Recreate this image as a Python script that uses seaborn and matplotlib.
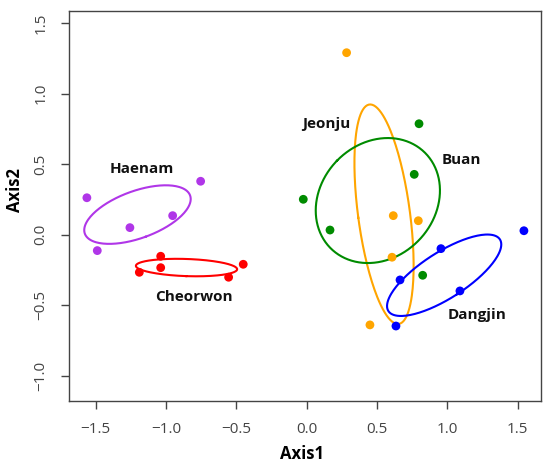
import numpy as np
import pandas as pd
import matplotlib
matplotlib.use("Agg")
import matplotlib.pyplot as plt
import seaborn as sns

# ---- data ----
groups = ["Haenam", "Cheorwon", "Jeonju", "Buan", "Dangjin"]
colors = ["#B036E8", "#FF0000", "#FFA500", "#008B00", "#0000FF"]

haenam_x = [-1.563, -0.754, -0.953, -1.257, -1.489]
haenam_y = [0.262, 0.379, 0.135, 0.050, -0.113]
cheorwon_x = [-1.038, -1.038, -1.190, -0.555, -0.451]
cheorwon_y = [-0.153, -0.234, -0.267, -0.302, -0.210]
jeonju_x = [0.284, 0.616, 0.794, 0.607, 0.450]
jeonju_y = [1.291, 0.135, 0.099, -0.160, -0.640]
buan_x = [0.799, 0.765, -0.024, 0.166, 0.825]
buan_y = [0.787, 0.428, 0.251, 0.033, -0.288]
dangjin_x = [1.545, 0.955, 0.664, 1.090, 0.635]
dangjin_y = [0.028, -0.099, -0.321, -0.399, -0.648]

label_x = [-1.174, -0.801, 0.137, 1.100, 1.209]
label_y = [0.466, -0.440, 0.785, 0.530, -0.569]

xs = [haenam_x, cheorwon_x, jeonju_x, buan_x, dangjin_x]
ys = [haenam_y, cheorwon_y, jeonju_y, buan_y, dangjin_y]

rows = []
for g, gx, gy in zip(groups, xs, ys):
    for a, b in zip(gx, gy):
        rows.append({"Axis1": a, "Axis2": b, "site": g})
df = pd.DataFrame(rows)

fig = plt.figure(figsize=(5.5, 4.65), dpi=100)
ax = fig.add_axes([0.126, 0.137, 0.857, 0.840])

sns.scatterplot(data=df, x="Axis1", y="Axis2", hue="site", hue_order=groups,
                palette=colors, s=40, edgecolor="none", legend=False, ax=ax,
                zorder=3)

# standard-error ellipses (95% confidence), as in vegan::ordiellipse(kind="se")
chi = np.sqrt(-2 * np.log(0.05))
t = np.linspace(0, 2 * np.pi, 200)
for g, c in zip(groups, colors):
    sub = df[df.site == g][["Axis1", "Axis2"]].to_numpy()
    n = len(sub)
    ctr = sub.mean(axis=0)
    cov = np.cov(sub.T) / n
    vals, vecs = np.linalg.eigh(cov)
    circ = np.vstack([np.cos(t), np.sin(t)]) * (chi * np.sqrt(vals))[:, None]
    pts = vecs @ circ + ctr[:, None]
    ax.plot(pts[0], pts[1], color=c, lw=1.5, zorder=2)

for g, lx, ly in zip(groups, label_x, label_y):
    ax.text(lx, ly, g, ha="center", va="center", fontsize=11,
            fontweight="bold", family="Open Sans", color="#111111")

ax.set_xlim(-1.688, 1.664)
ax.set_ylim(-1.182, 1.589)
ax.set_xticks([-1.5, -1.0, -0.5, 0.0, 0.5, 1.0, 1.5])
ax.set_yticks([-1.0, -0.5, 0.0, 0.5, 1.0, 1.5])
ax.tick_params(axis="both", length=6, width=1, color="#444444",
               labelcolor="#444444", labelsize=11, pad=9)
for lab in ax.get_xticklabels() + ax.get_yticklabels():
    lab.set_family("Open Sans")
for lab in ax.get_yticklabels():
    lab.set_rotation(90)
    lab.set_va("center")

for sp in ax.spines.values():
    sp.set_color("#444444")
    sp.set_linewidth(1)

ax.set_xlabel("Axis1", fontsize=12, fontweight="bold", family="Open Sans")
ax.set_ylabel("Axis2", fontsize=12, fontweight="bold", family="Open Sans")
ax.xaxis.set_label_coords(0.494, -0.112)
ax.yaxis.set_label_coords(-0.096, 0.541)

fig.savefig("out.png", dpi=100)
